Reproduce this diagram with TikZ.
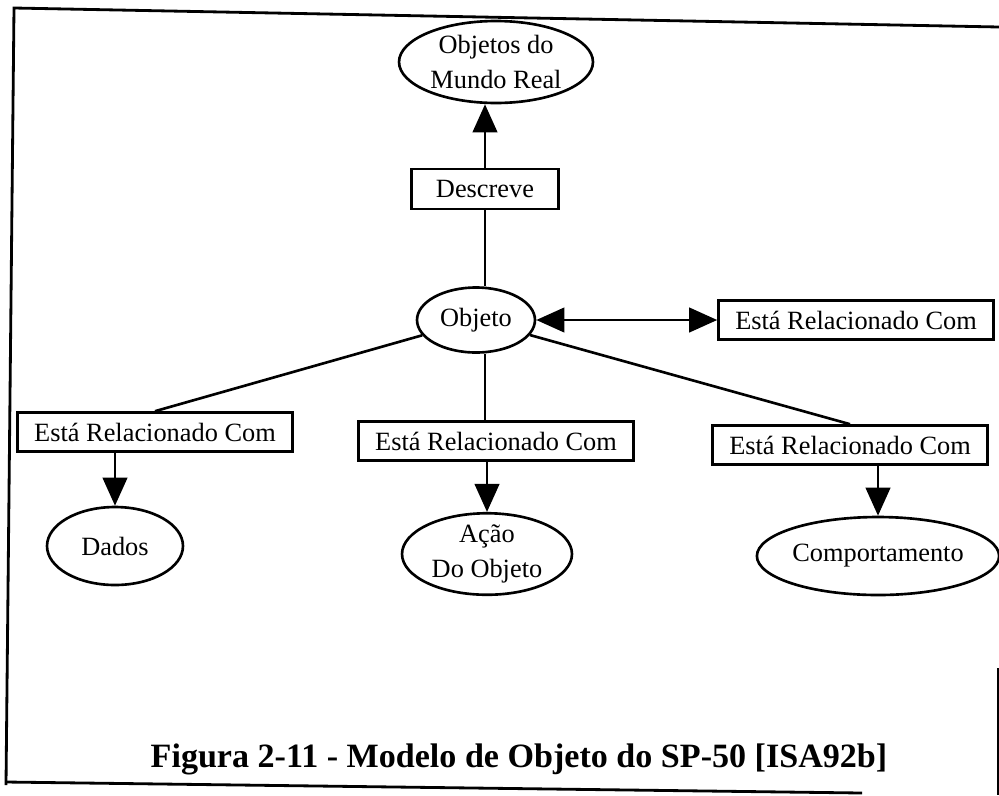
\documentclass[tikz,border=0pt]{standalone}
\usepackage{fontspec}
\setmainfont{Liberation Serif}
\usetikzlibrary{shapes.geometric,arrows.meta}

\tikzset{
  lbl/.style={font=\fontsize{15}{19.5}\selectfont},
  ell/.style={lbl, draw, ellipse, line width=1.5pt, inner sep=0pt, align=center},
  relbox/.style={lbl, draw, rectangle, line width=1.5pt, inner sep=0pt,
                 minimum width=5.5cm, minimum height=0.78cm},
  conn/.style={line width=1.5pt},
  tip/.style={conn, -{Triangle[width=14pt,length=16pt]}},
  frame/.style={line width=1.6pt},
}

\begin{document}
\begin{tikzpicture}[x=0.02cm,y=-0.02cm]
\useasboundingbox (0,0) rectangle (999,795);

% outer frame of the figure
\draw[frame] (6,785) -- (14,8) -- (999,27);
\draw[frame] (6,782) -- (862,793);
\draw[frame] (998,668) -- (998,795);

% nodes
\node[ell, minimum width=3.88cm, minimum height=1.64cm] (mundo) at (496,62) {Objetos do\\Mundo Real};
\node[lbl, draw, line width=1.5pt, inner sep=0pt, minimum width=2.94cm, minimum height=0.8cm] (descreve) at (485,189) {Descreve};
\node[ell, minimum width=2.36cm, minimum height=1.30cm] (objeto) at (476,320) {Objeto};
\node[relbox] (relR) at (856,320) {Está Relacionado Com};
\node[relbox] (relL) at (155,432) {Está Relacionado Com};
\node[relbox] (relM) at (496,441) {Está Relacionado Com};
\node[relbox] (relD) at (850,445) {Está Relacionado Com};
\node[ell, minimum width=2.72cm, minimum height=1.56cm] (dados) at (115,546) {Dados};
\node[ell, minimum width=3.4cm, minimum height=1.56cm] (acao) at (487,554) {Ação\\Do Objeto};
\node[ell, minimum width=4.32cm, minimum height=1.56cm] (comp) at (878,556) {Comportamento};

% connectors
\draw[tip] (descreve.north) -- (descreve.north |- mundo.south);
\draw[conn] (descreve.south) -- (descreve.south |- objeto.north);
\draw[conn, {Triangle[width=14pt,length=16pt]}-{Triangle[width=14pt,length=16pt]}] (objeto.east) -- (relR.west);
\draw[conn] (objeto) -- (relL.north);
\draw[conn] (descreve.south |- objeto.south) -- (descreve.south |- relM.north);
\draw[conn] (objeto) -- (relD.north);
\draw[tip] (dados.north |- relL.south) -- (dados.north);
\draw[tip] (acao.north |- relM.south) -- (acao.north);
\draw[tip] (comp.north |- relD.south) -- (comp.north);

% caption
\node[font=\fontsize{19.4}{23}\selectfont\bfseries, anchor=base] (caption) at (519,767)
  {Figura 2-11 - Modelo de Objeto do SP-50 [ISA92b]};
\end{tikzpicture}
\end{document}
